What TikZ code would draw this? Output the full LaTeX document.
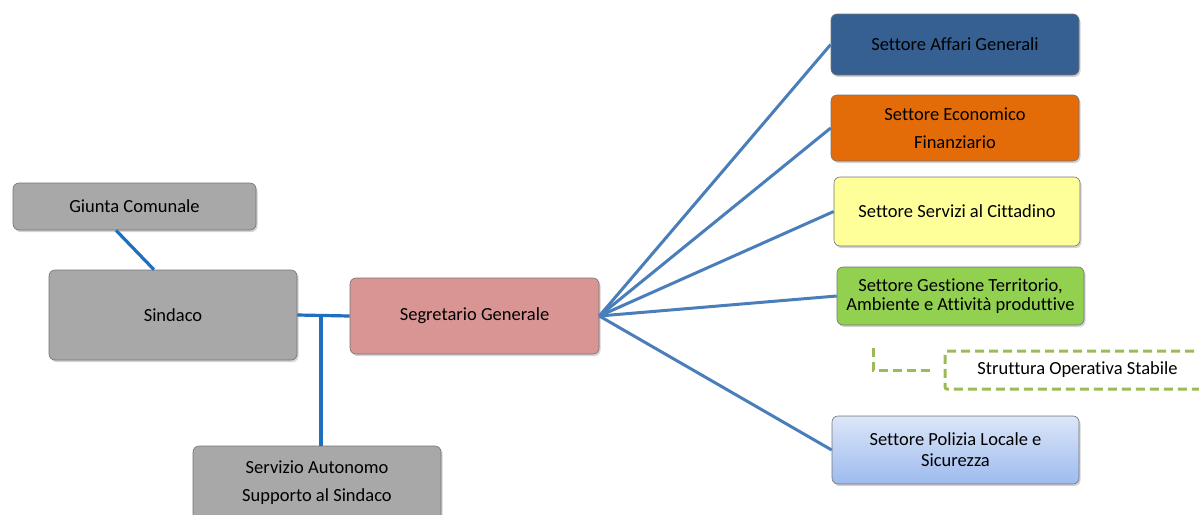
\documentclass[tikz,border=0pt]{standalone}
\usepackage{fontspec}
\setmainfont{Carlito}[Ligatures=NoCommon]
\usetikzlibrary{shadows,calc}

\definecolor{boxgray}{HTML}{A8A8A8}
\definecolor{segred}{HTML}{D99594}
\definecolor{affblue}{HTML}{376092}
\definecolor{ecoorange}{HTML}{E36C09}
\definecolor{servyellow}{HTML}{FFFF99}
\definecolor{gestgreen}{HTML}{92D050}
\definecolor{dashgreen}{HTML}{9BBB59}
\definecolor{poltop}{HTML}{DCE6F8}
\definecolor{polbot}{HTML}{9DBBEE}
\definecolor{fanblue}{HTML}{4A7EBB}
\definecolor{linkblue}{HTML}{1F6FBF}

\tikzset{
  orgbox/.style={rounded corners=6pt, draw=black!55, line width=0.6pt,
    align=center, inner sep=0pt,
    font=\fontsize{18.5}{22}\selectfont,
    drop shadow={shadow xshift=1.5pt, shadow yshift=-2pt, opacity=0.35}},
  widelines/.style={font=\fontsize{18.5}{28}\selectfont},
  fan/.style={draw=fanblue, line width=3pt},
  link/.style={draw=linkblue, line width=3.2pt},
  dashgreenline/.style={draw=dashgreen, line width=3pt, dash pattern=on 9pt off 5pt}
}

\begin{document}
\begin{tikzpicture}[x=1pt,y=-1pt]
\useasboundingbox (0,0) rectangle (1199,514);
\clip (0,0) rectangle (1199,514);

% left column
\node[orgbox, fill=boxgray, minimum width=243pt, minimum height=47pt] (giu) at (134.5,206.5) {Giunta Comunale};
\node[orgbox, fill=boxgray, minimum width=248pt, minimum height=90pt] (sin) at (173,315) {Sindaco};
\node[orgbox, widelines, fill=boxgray, minimum width=248pt, minimum height=74pt] (srv) at (317,483) {Servizio Autonomo\\Supporto al Sindaco};

% centre
\node[orgbox, fill=segred, minimum width=249pt, minimum height=76pt] (seg) at (474.5,316) {Segretario Generale};

% sectors
\node[orgbox, fill=affblue, minimum width=248pt, minimum height=61pt] (aff) at (955,44.5) {Settore Affari Generali};
\node[orgbox, widelines, fill=ecoorange, minimum width=248pt, minimum height=66pt] (eco) at (955,128) {Settore Economico\\Finanziario};
\node[orgbox, fill=servyellow, minimum width=246pt, minimum height=69pt] (cit) at (957,211.5) {Settore Servizi al Cittadino};
\node[orgbox, font=\fontsize{18.5}{19.5}\selectfont, fill=gestgreen, minimum width=247pt, minimum height=58pt] (ges) at (960.5,296) {Settore Gestione Territorio,\\Ambiente e Attività produttive};
\node[orgbox, font=\fontsize{18.5}{21}\selectfont, top color=poltop, bottom color=polbot, minimum width=247pt, minimum height=68pt] (pol) at (955.5,450) {Settore Polizia Locale e\\Sicurezza};

% stable operating unit
\node[rounded corners=2pt, dashgreenline, inner sep=0pt, font=\fontsize{18.5}{22}\selectfont,
      minimum width=265pt, minimum height=38pt] (sos) at (1077.5,370) {Struttura Operativa Stabile};
\coordinate (bt) at (873,348);
\coordinate (bc) at (873,370);
\draw[dashgreenline] (bt) -- (bc) -- (bc -| 932,0);

% connectors on the left
\coordinate (tj) at (321,315);
\draw[link] ([xshift=-18.5pt]giu.south) -- ([xshift=-19pt]sin.north);
\draw[link] (sin.east) -- (seg.west);
\draw[link] (tj) -- (tj |- srv.north);

% fan towards the sectors
\foreach \t in {aff,eco,cit,ges,pol}
  \draw[fan] (seg.east) -- (\t.west);
\end{tikzpicture}
\end{document}
